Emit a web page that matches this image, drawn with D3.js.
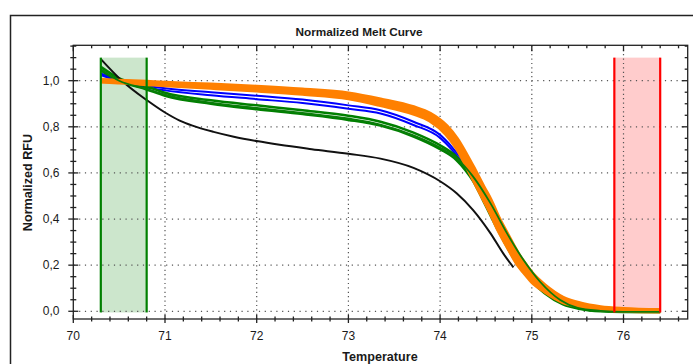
<!DOCTYPE html>
<html><head><meta charset="utf-8">
<script src="https://cdn.jsdelivr.net/npm/d3@7"></script>
<style>
html,body{margin:0;padding:0;background:#fff;}
svg{display:block;font-family:"Liberation Sans",Arial,sans-serif;}
</style></head>
<body>
<svg id="chart" width="693" height="364"></svg>
<script>
// ---- data ----
const chartTitle = "Normalized Melt Curve";
const xTitle = "Temperature";
const yTitle = "Normalized RFU";
const xTickValues = [70, 71, 72, 73, 74, 75, 76];
const xTickLabels = ["70", "71", "72", "73", "74", "75", "76"];
const yTickValues = [0, 0.2, 0.4, 0.6, 0.8, 1.0];
const yTickLabels = ["0,0", "0,2", "0,4", "0,6", "0,8", "1,0"];
const beginRegion = [70.3, 70.8];   // green region
const endRegion = [75.9, 76.4];     // red region
const regionTop = 1.1;

const orangeHi = [[70.3,1.002],[70.5,0.999],[70.8,0.994],[71.0,0.99],[71.5,0.982],[72.0,0.973],[72.5,0.961],[73.0,0.944],[73.35,0.918],[73.71,0.884],[73.89,0.856],[74.07,0.802],[74.18,0.748],[74.28,0.682],[74.36,0.624],[74.47,0.54],[74.55,0.482],[74.64,0.402],[74.73,0.335],[74.85,0.248],[74.91,0.212],[75.0,0.165],[75.14,0.112],[75.34,0.058],[75.53,0.033],[75.75,0.017],[76.0,0.009],[76.4,0.004]];
const orangeMid = [[70.3,1.0],[70.5,0.996],[70.8,0.99],[71.0,0.986],[71.5,0.977],[72.0,0.966],[72.5,0.953],[73.0,0.935],[73.35,0.907],[73.71,0.872],[73.89,0.843],[74.07,0.787],[74.18,0.73],[74.28,0.66],[74.36,0.6],[74.47,0.515],[74.55,0.455],[74.64,0.375],[74.73,0.31],[74.85,0.225],[74.91,0.193],[75.0,0.148],[75.14,0.1],[75.34,0.049],[75.53,0.028],[75.75,0.013],[76.0,0.006],[76.4,0.002]];
const orangeLo = [[70.3,0.998],[70.5,0.993],[70.8,0.986],[71.0,0.981],[71.5,0.97],[72.0,0.958],[72.5,0.944],[73.0,0.925],[73.35,0.895],[73.71,0.858],[73.89,0.828],[74.07,0.768],[74.18,0.71],[74.28,0.638],[74.36,0.576],[74.47,0.49],[74.55,0.428],[74.64,0.35],[74.73,0.285],[74.85,0.202],[74.91,0.172],[75.0,0.13],[75.14,0.087],[75.34,0.041],[75.53,0.023],[75.75,0.01],[76.0,0.003],[76.4,0.0]];
const blueA = [[70.3,1.032],[70.5,1.003],[70.8,0.978],[71.0,0.967],[71.5,0.95],[72.0,0.935],[72.5,0.918],[73.0,0.893],[73.35,0.872],[73.71,0.822],[74.0,0.765],[74.13,0.712],[74.28,0.635],[74.47,0.505],[74.64,0.365],[74.85,0.212],[75.0,0.142],[75.14,0.09],[75.34,0.045],[75.75,0.01],[76.4,0.0]];
const blueB = [[70.3,1.025],[70.5,0.998],[70.8,0.97],[71.0,0.958],[71.5,0.937],[72.0,0.92],[72.5,0.903],[73.0,0.878],[73.35,0.858],[73.71,0.808],[74.0,0.752],[74.13,0.7],[74.28,0.622],[74.47,0.492],[74.64,0.357],[74.85,0.203],[75.0,0.136],[75.14,0.086],[75.34,0.042],[75.75,0.01],[76.4,0.0]];
const greenA = [[70.3,1.06],[70.5,1.01],[70.8,0.975],[71.0,0.948],[71.5,0.915],[72.0,0.893],[72.5,0.872],[73.0,0.848],[73.35,0.822],[73.71,0.775],[74.0,0.72],[74.18,0.67],[74.28,0.625],[74.36,0.585],[74.47,0.5],[74.64,0.36],[74.85,0.21],[75.0,0.14],[75.14,0.085],[75.34,0.035],[75.53,0.012],[75.75,0.002],[76.0,-0.002],[76.4,-0.003]];
const greenB = [[70.3,1.045],[70.5,1.0],[70.8,0.962],[71.0,0.935],[71.5,0.9],[72.0,0.876],[72.5,0.855],[73.0,0.83],[73.35,0.805],[73.71,0.758],[74.0,0.703],[74.18,0.655],[74.28,0.61],[74.36,0.565],[74.47,0.48],[74.64,0.345],[74.85,0.2],[75.0,0.13],[75.14,0.078],[75.34,0.03],[75.53,0.01],[75.75,0.0],[76.0,-0.003],[76.4,-0.003]];
const greenLine = [[70.3,1.05],[70.5,1.0],[70.8,0.965],[71.0,0.94],[71.5,0.905],[72.0,0.882],[72.5,0.86],[73.0,0.836],[73.35,0.81],[73.71,0.763],[74.0,0.71],[74.18,0.663],[74.36,0.584],[74.55,0.468],[74.73,0.338],[74.91,0.222],[75.09,0.128],[75.31,0.049],[75.5,0.015],[75.75,0.002],[76.0,-0.003],[76.4,-0.003]];
const blackLine = [[70.3,1.094],[70.53,1.0],[70.8,0.916],[71.0,0.862],[71.16,0.827],[71.3,0.805],[71.53,0.778],[71.75,0.757],[72.0,0.738],[72.25,0.722],[72.6,0.703],[73.0,0.683],[73.35,0.662],[73.71,0.622],[74.0,0.564],[74.18,0.512],[74.36,0.439],[74.55,0.338],[74.69,0.25],[74.8,0.19]];

// ---- layout ----
const svg = d3.select("#chart");
const L = 73.3, R = 687.7, T = 45.3, B = 319;
const x = d3.scaleLinear().domain([70, 76.7]).range([L, R]);
const y = d3.scaleLinear().domain([-0.0335, 1.1535]).range([B, T]);
const ink = "#1a1a1a";

// outer frame
svg.append("rect").attr("x", 10.5).attr("y", 15.5).attr("width", 720).attr("height", 400)
  .attr("fill", "none").attr("stroke", "#222").attr("stroke-width", 1.5);

// regions
function region(r, fill) {
  svg.append("rect").attr("x", x(r[0])).attr("y", y(regionTop))
    .attr("width", x(r[1]) - x(r[0])).attr("height", y(-0.005) - y(regionTop))
    .attr("fill", fill);
}
region(beginRegion, "#cce6cc");
region(endRegion, "#ffcccc");

// grid
const grid = svg.append("g").attr("stroke", "#555").attr("stroke-width", 1.2);
yTickValues.forEach(v => grid.append("line").attr("x1", L).attr("x2", R).attr("y1", y(v)).attr("y2", y(v)).attr("stroke-dasharray", "1.2,4.6"));
xTickValues.filter(v => v > 70).forEach(v => grid.append("line").attr("x1", x(v)).attr("x2", x(v)).attr("y1", T).attr("y2", B).attr("stroke-dasharray", "1.2,3.2"));

function regionLines(r, stroke) {
  r.forEach(t => svg.append("line").attr("x1", x(t)).attr("x2", x(t))
    .attr("y1", y(regionTop)).attr("y2", y(-0.005)).attr("stroke", stroke).attr("stroke-width", 2.2));
}

// curves
const line = d3.line().x(d => x(d[0])).y(d => y(d[1])).curve(d3.curveMonotoneX);
function draw(data, color, w) {
  svg.append("path").datum(data).attr("d", line).attr("fill", "none")
    .attr("stroke", color).attr("stroke-width", w).attr("stroke-linejoin", "round");
}
draw(blueA, "#0000ff", 2);
draw(blueB, "#0000ff", 2);
draw(greenA, "#008000", 2.5);
draw(greenB, "#008000", 2.5);
draw(blackLine, "#111", 2);
draw(orangeLo, "#ff8000", 4.5);
draw(orangeMid, "#ff8000", 4.5);
draw(orangeHi, "#ff8000", 4.5);
draw(greenLine, "#0a7d0a", 1.8);

regionLines(beginRegion, "#008000");
regionLines(endRegion, "#ff0000");

// axes frame
const ax = svg.append("g").attr("stroke", "#222").attr("stroke-width", 1.3);
ax.append("rect").attr("x", L).attr("y", T).attr("width", R - L).attr("height", B - T).attr("fill", "none");
const xMinor = d3.range(0, 34).map(i => 70 + i * 0.2);
const yMinor = d3.range(0, 24).map(i => i * 0.05);
xMinor.forEach((v, i) => {
  const major = i % 5 === 0;
  const px = x(v);
  ax.append("line").attr("x1", px).attr("x2", px).attr("y1", B - (major ? 4 : 2.5)).attr("y2", B + (major ? 4 : 2.5));
  ax.append("line").attr("x1", px).attr("x2", px).attr("y1", T).attr("y2", T + (major ? 6 : 3));
});
yMinor.forEach((v, i) => {
  const major = i % 4 === 0;
  const py = y(v);
  ax.append("line").attr("x1", L - (major ? 5 : 3)).attr("x2", L + (major ? 5 : 3)).attr("y1", py).attr("y2", py);
  ax.append("line").attr("x1", R - (major ? 6 : 3)).attr("x2", R).attr("y1", py).attr("y2", py);
});

// labels
svg.append("g").selectAll("text").data(yTickValues).join("text")
  .attr("x", 59.5).attr("y", d => y(d) + 4.2).attr("text-anchor", "end")
  .attr("font-size", 12).attr("fill", ink).text((d, i) => yTickLabels[i]);
svg.append("g").selectAll("text").data(xTickValues).join("text")
  .attr("x", d => x(d)).attr("y", 339.5).attr("text-anchor", "middle")
  .attr("font-size", 12).attr("fill", ink).text((d, i) => xTickLabels[i]);

svg.append("text").attr("x", 359).attr("y", 35.8).attr("text-anchor", "middle")
  .attr("font-size", 11.8).attr("font-weight", "bold").attr("fill", ink).text(chartTitle);
svg.append("text").attr("x", 380).attr("y", 361).attr("text-anchor", "middle")
  .attr("font-size", 12.6).attr("font-weight", "bold").attr("fill", ink).text(xTitle);
svg.append("text").attr("transform", "translate(32,182.5) rotate(-90)").attr("text-anchor", "middle")
  .attr("font-size", 12.6).attr("font-weight", "bold").attr("fill", ink).text(yTitle);
</script>
</body></html>
